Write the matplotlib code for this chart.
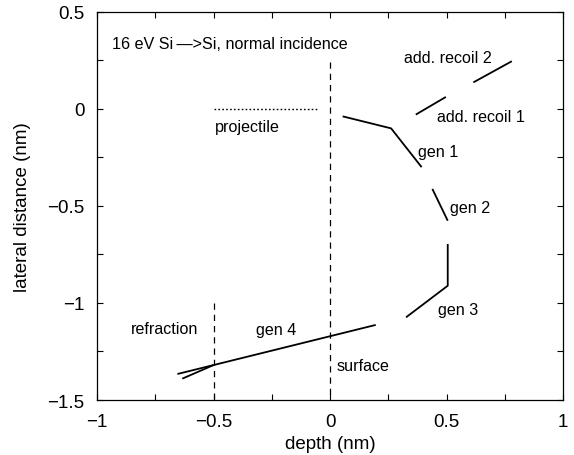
import matplotlib
matplotlib.use("Agg")
import matplotlib.pyplot as plt
from matplotlib.ticker import MultipleLocator

# trajectories (depth, lateral distance) in nm
projectile_x = [-0.50, -0.05]
projectile_y = [0.0, 0.0]

gen1_x = [0.054, 0.262, 0.393]
gen1_y = [-0.038, -0.100, -0.300]

gen2_x = [0.439, 0.505]
gen2_y = [-0.412, -0.576]

gen3_x = [0.505, 0.505, 0.326]
gen3_y = [-0.696, -0.911, -1.074]

gen4_x = [0.196, -0.655]
gen4_y = [-1.113, -1.366]

refr_x = [-0.50, -0.634]
refr_y = [-1.320, -1.390]

recoil1_x = [0.368, 0.497]
recoil1_y = [-0.029, 0.062]

recoil2_x = [0.615, 0.780]
recoil2_y = [0.137, 0.246]

surface_x = [0.0, 0.0]
surface_y = [0.24, -1.5]
refrline_x = [-0.5, -0.5]
refrline_y = [-1.0, -1.5]

labels = ["16 eV Si\u2009\u2014>Si, normal incidence", "projectile", "add. recoil 2",
          "add. recoil 1", "gen 1", "gen 2", "gen 3", "gen 4", "surface", "refraction"]
label_x = [-0.937, -0.494, 0.318, 0.458, 0.376, 0.515, 0.462, -0.318, 0.029, -0.854]
label_y = [0.335, -0.091, 0.266, -0.038, -0.22, -0.507, -1.031, -1.138, -1.323, -1.129]

plt.rcParams['font.family'] = ['Liberation Sans', 'DejaVu Sans']

fig = plt.figure(figsize=(5.74, 4.56), dpi=100)
ax = fig.add_axes([0.169, 0.1206, 0.812, 0.851])

lw = 1.3
for xs, ys in [(gen1_x, gen1_y), (gen2_x, gen2_y), (gen3_x, gen3_y), (gen4_x, gen4_y),
               (refr_x, refr_y), (recoil1_x, recoil1_y), (recoil2_x, recoil2_y)]:
    ax.plot(xs, ys, color='black', lw=lw, solid_capstyle='butt')

ax.plot(projectile_x, projectile_y, color='black', lw=1.0, ls=(0, (1.2, 1.6)))
ax.plot(surface_x, surface_y, color='black', lw=0.9, ls=(0, (5, 4)))
ax.plot(refrline_x, refrline_y, color='black', lw=0.9, ls=(0, (5, 4)))

for t, x, y in zip(labels, label_x, label_y):
    ax.text(x, y, t, fontsize=11.6, ha='left', va='center')

ax.set_xlim(-1, 1)
ax.set_ylim(-1.5, 0.5)
ax.xaxis.set_major_locator(MultipleLocator(0.5))
ax.xaxis.set_minor_locator(MultipleLocator(0.25))
ax.yaxis.set_major_locator(MultipleLocator(0.5))
ax.yaxis.set_minor_locator(MultipleLocator(0.25))
ax.xaxis.set_major_formatter(plt.FuncFormatter(lambda v, p: ('%g' % v).replace('-', '\u2212')))
ax.yaxis.set_major_formatter(plt.FuncFormatter(lambda v, p: ('%g' % v).replace('-', '\u2212')))
ax.tick_params(which='both', direction='in', top=True, right=True, length=4, width=0.8, labelsize=13.5)
ax.tick_params(axis='x', pad=9)
ax.tick_params(axis='y', pad=9)
for s in ax.spines.values():
    s.set_linewidth(0.9)

ax.set_xlabel('depth (nm)', fontsize=13.5, labelpad=4)
ax.set_ylabel('lateral distance (nm)', fontsize=13.5, labelpad=12)

fig.savefig('out.png', dpi=100)
